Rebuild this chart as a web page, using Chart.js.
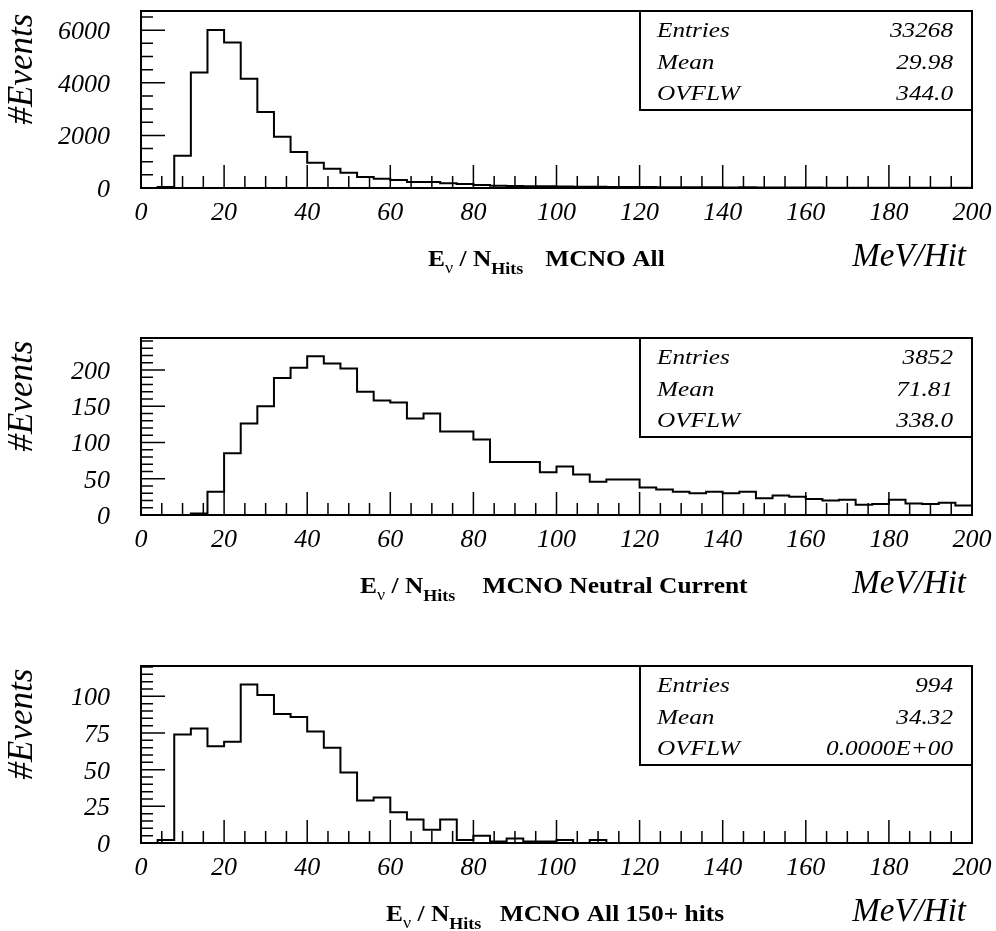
<!DOCTYPE html>
<html>
<head>
<meta charset="utf-8">
<script src="https://cdn.jsdelivr.net/npm/chart.js@4.4.1/dist/chart.umd.min.js"></script>
<style>
  body { margin: 0; background: #fff; width: 996px; height: 931px; overflow: hidden; position: relative; }
  canvas { position: absolute; left: 0; }
</style>
</head>
<body>
<canvas id="hAll" width="996" height="300" style="top:0px"></canvas>
<canvas id="hNc" width="996" height="300" style="top:327px"></canvas>
<canvas id="hHits" width="996" height="276" style="top:655px"></canvas>
<script>
// 50 bins of 4 MeV/Hit from 0 to 200
const binWidth = 4;
const xTicks = [0, 20, 40, 60, 80, 100, 120, 140, 160, 180, 200];
const statNames = ['Entries', 'Mean', 'OVFLW'];

// MCNO All
const allCounts = [0, 40, 1230, 4390, 6010, 5530, 4150, 2890, 1950, 1370,
                   960, 730, 580, 420, 350, 300, 230, 230, 180, 150,
                   110, 85, 75, 70, 62, 55, 50, 45, 40, 38,
                   35, 30, 28, 26, 24, 22, 30, 20, 18, 16,
                   15, 14, 13, 12, 11, 10, 10, 9, 8, 8];
const allStats = ['33268', '29.98', '344.0'];
const allTicksY = [0, 2000, 4000, 6000];

// MCNO Neutral Current
const ncCounts = [0, 0, 0, 2, 32, 85, 126, 150, 189, 203,
                  219, 209, 202, 170, 158, 155, 133, 140, 115, 115,
                  104, 73, 73, 73, 59, 67, 56, 46, 49, 49,
                  38, 35, 32, 30, 32, 30, 32, 23, 27, 25,
                  22, 20, 21, 14, 15, 21, 16, 15, 17, 13];
const ncStats = ['3852', '71.81', '338.0'];
const ncTicksY = [0, 50, 100, 150, 200];

// MCNO All, 150+ hits
const hitsCounts = [0, 2, 74, 78, 66, 69, 108, 101, 88, 86,
                    76, 65, 48, 29, 31, 21, 16, 9, 16, 2,
                    5, 1, 3, 1, 1, 2, 0, 2, 0, 0,
                    0, 0, 0, 0, 0, 0, 0, 0, 0, 0,
                    0, 0, 0, 0, 0, 0, 0, 0, 0, 0];
const hitsStats = ['994', '34.32', '0.0000E+00'];
const hitsTicksY = [0, 25, 50, 75, 100];

const serif = '"Liberation Serif", "Times New Roman", serif';

// text drawn with a horizontal stretch, like the old PostScript fonts
function wideText(ctx, text, x, y, sx, align) {
  ctx.save();
  ctx.translate(x, y);
  ctx.scale(sx, 1);
  ctx.textAlign = align || 'left';
  ctx.fillText(text, 0, 0);
  ctx.restore();
  return ctx.measureText(text).width * sx;
}

const pawFrame = {
  id: 'pawFrame',
  afterDatasetsDraw(chart, args, o) {
    const { ctx, chartArea: a } = chart;
    const xs = chart.scales.x, ys = chart.scales.y;
    ctx.save();
    ctx.strokeStyle = '#000';
    ctx.fillStyle = '#000';
    ctx.textBaseline = 'alphabetic';

    // inward ticks along the bottom: minor every 5, major every 20
    ctx.lineWidth = 1.5;
    ctx.beginPath();
    for (let i = 1; i < 40; i++) {
      const px = xs.getPixelForValue(i * 5);
      const len = i % 4 === 0 ? 23 : 12;
      ctx.moveTo(px, a.bottom);
      ctx.lineTo(px, a.bottom - len);
    }
    // inward ticks along the left side
    for (let i = 1; i * o.yMinor <= ys.max; i++) {
      const py = ys.getPixelForValue(i * o.yMinor);
      const len = (i * o.yMinor) % o.yMajor === 0 ? 24 : 12;
      ctx.moveTo(a.left, py);
      ctx.lineTo(a.left + len, py);
    }
    ctx.stroke();

    // frame
    ctx.lineWidth = 2;
    ctx.strokeRect(a.left, a.top, a.right - a.left, a.bottom - a.top);

    // tick labels
    ctx.font = 'italic 26px ' + serif;
    ctx.textAlign = 'center';
    xTicks.forEach(v => ctx.fillText(String(v), xs.getPixelForValue(v), a.bottom + 32));
    ctx.textAlign = 'right';
    o.yTicks.forEach(v => ctx.fillText(String(v), 110, ys.getPixelForValue(v) + 9));

    // y title
    ctx.save();
    ctx.translate(23, a.top + 58);
    ctx.rotate(-Math.PI / 2);
    ctx.font = 'italic 35px ' + serif;
    ctx.textAlign = 'center';
    ctx.textBaseline = 'middle';
    ctx.fillText('#Events', 0, 0);
    ctx.restore();

    // statistics box
    const bx = 640, bh = 99;
    ctx.fillStyle = '#fff';
    ctx.fillRect(bx, a.top, a.right - bx, bh);
    ctx.fillStyle = '#000';
    ctx.lineWidth = 2;
    ctx.strokeRect(bx, a.top, a.right - bx, bh);
    ctx.font = 'italic 21px ' + serif;
    statNames.forEach((name, i) => {
      const by = a.top + 26 + i * 31.5;
      wideText(ctx, name, 657, by, 1.2, 'left');
      wideText(ctx, o.stats[i], 953, by, 1.2, 'right');
    });

    // x title: E_nu / N_Hits, then the sample name
    const ty = a.top + 255;
    let tx = o.titleX;
    ctx.font = 'bold 24px ' + serif;
    tx += wideText(ctx, 'E', tx, ty, 1.06);
    ctx.font = '17px ' + serif;
    tx += wideText(ctx, 'ν', tx, ty + 7, 1.06);
    ctx.font = 'bold 24px ' + serif;
    tx += wideText(ctx, ' / ', tx, ty, 1.06);
    tx += wideText(ctx, 'N', tx, ty, 1.06);
    ctx.font = 'bold 17px ' + serif;
    wideText(ctx, 'Hits', tx, ty + 8, 1.06);
    ctx.font = 'bold 24px ' + serif;
    wideText(ctx, o.title, o.nameX, ty, 1.06, 'center');

    ctx.font = 'italic 33px ' + serif;
    ctx.textAlign = 'right';
    ctx.fillText('MeV/Hit', 966, ty);
    ctx.restore();
  }
};

function histo(id, counts, yMax, opts) {
  const pts = counts.map((c, i) => ({ x: i * binWidth, y: c }));
  pts.push({ x: counts.length * binWidth, y: counts[counts.length - 1] });
  const cv = document.getElementById(id);
  return new Chart(cv, {
    type: 'line',
    data: {
      datasets: [{
        data: pts,
        stepped: true,
        borderColor: '#000',
        borderWidth: 2,
        pointRadius: 0,
        fill: false
      }]
    },
    options: {
      responsive: false,
      animation: false,
      devicePixelRatio: 1,
      layout: { padding: { left: 141, right: 996 - 972, top: opts.top, bottom: cv.height - opts.top - 177 } },
      scales: {
        x: { type: 'linear', min: 0, max: 200, display: false },
        y: { type: 'linear', min: 0, max: yMax, display: false }
      },
      plugins: {
        legend: { display: false },
        tooltip: { enabled: false },
        pawFrame: opts
      }
    },
    plugins: [pawFrame]
  });
}

histo('hAll', allCounts, 6730, {
  top: 11, yMajor: 2000, yMinor: 500, yTicks: allTicksY,
  stats: allStats, title: 'MCNO All', titleX: 428, nameX: 605
});
histo('hNc', ncCounts, 244, {
  top: 11, yMajor: 50, yMinor: 10, yTicks: ncTicksY,
  stats: ncStats, title: 'MCNO Neutral Current', titleX: 360, nameX: 615
});
histo('hHits', hitsCounts, 120.7, {
  top: 11, yMajor: 25, yMinor: 5, yTicks: hitsTicksY,
  stats: hitsStats, title: 'MCNO All 150+ hits', titleX: 386, nameX: 612
});
</script>
</body>
</html>
